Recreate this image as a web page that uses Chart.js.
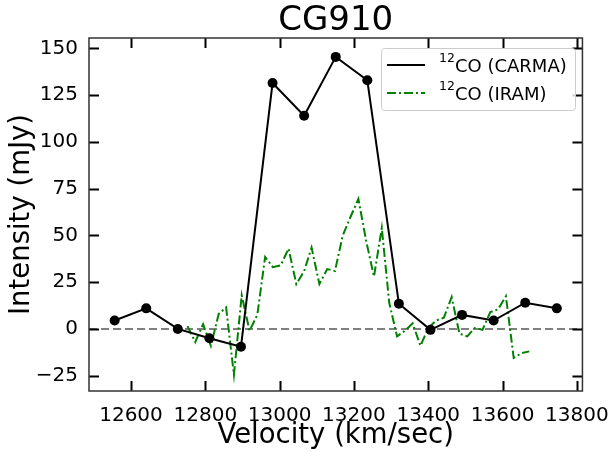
<!DOCTYPE html>
<html>
<head>
<meta charset="utf-8">
<script src="https://cdn.jsdelivr.net/npm/chart.js@4.4.1/dist/chart.umd.min.js"></script>
<style>
  html, body { margin: 0; padding: 0; background: #fff; }
  #wrap { width: 614px; height: 452px; }
</style>
</head>
<body>
<div id="wrap"><canvas id="specChart" width="614" height="452"></canvas></div>
<script>
// CARMA spectrum (black, with markers)
const carmaVel = [12556, 12641, 12726, 12811, 12896, 12981, 13066, 13151, 13236, 13321, 13406, 13491, 13576, 13661, 13746];
const carmaFlux = [4.5, 11, 0, -5, -9.5, 131.5, 114, 145.5, 133, 13.5, -0.5, 7.5, 4.5, 14, 11];

// IRAM spectrum (green dash-dot)
const iramVel = [12752, 12773, 12794, 12815, 12836, 12856, 12877, 12898, 12919, 12940,
                 12961, 12982, 13003, 13024, 13045, 13066, 13086, 13107, 13128, 13149,
                 13170, 13191, 13212, 13233, 13254, 13275, 13295, 13316, 13337, 13358,
                 13379, 13400, 13421, 13442, 13463, 13484, 13505, 13525, 13546, 13567,
                 13588, 13609, 13630, 13651, 13672];
const iramFlux = [1.5, -7, 2.5, -9, 8, 11.5, -24.5, 18, -1, 7.5,
                  38.5, 33, 34, 43, 24, 31, 43.5, 24, 32, 31,
                  50, 60, 69.5, 47, 28, 54, 14, -4, -1, 3,
                  -9, 0.5, 4.5, 6, 17, -2.5, -4, 0.5, -0.5, 9,
                  10.5, 17.5, -15.5, -13, -12];

const xTicks = [12600, 12800, 13000, 13200, 13400, 13600, 13800];
const yTicks = [-25, 0, 25, 50, 75, 100, 125, 150];

const FONT = "'DejaVu Sans', sans-serif";

function toPoints(xs, ys) {
  return xs.map((x, i) => ({ x: x, y: ys[i] }));
}

// frame, inward ticks, zero line, titles and legend
const decorPlugin = {
  id: 'decor',
  beforeDatasetsDraw(chart) {
    const { ctx, chartArea: a, scales: { y } } = chart;
    const y0 = y.getPixelForValue(0);
    ctx.save();
    ctx.strokeStyle = '#808080';
    ctx.lineWidth = 2;
    ctx.setLineDash([8, 4]);
    ctx.beginPath();
    ctx.moveTo(a.left, y0);
    ctx.lineTo(a.right, y0);
    ctx.stroke();
    ctx.restore();
  },
  afterDraw(chart) {
    const { ctx, chartArea: a, scales: { x, y } } = chart;
    ctx.save();

    // ticks pointing in, on all four sides
    ctx.strokeStyle = '#000';
    ctx.lineWidth = 2;
    const tl = 10;
    ctx.beginPath();
    xTicks.forEach(v => {
      const px = Math.round(x.getPixelForValue(v)) + 0.5;
      ctx.moveTo(px, a.bottom); ctx.lineTo(px, a.bottom - tl);
      ctx.moveTo(px, a.top); ctx.lineTo(px, a.top + tl);
    });
    yTicks.forEach(v => {
      const py = Math.round(y.getPixelForValue(v)) + 0.5;
      ctx.moveTo(a.left, py); ctx.lineTo(a.left + tl, py);
      ctx.moveTo(a.right, py); ctx.lineTo(a.right - tl, py);
    });
    ctx.stroke();

    // frame
    ctx.strokeStyle = '#333';
    ctx.lineWidth = 1.5;
    ctx.strokeRect(a.left, a.top, a.right - a.left, a.bottom - a.top);

    // title and axis labels
    ctx.fillStyle = '#000';
    ctx.textAlign = 'center';
    ctx.textBaseline = 'alphabetic';
    ctx.font = '34px ' + FONT;
    ctx.fillText('CG910', (a.left + a.right) / 2, 30);
    ctx.font = '27.5px ' + FONT;
    ctx.fillText('Velocity (km/sec)', (a.left + a.right) / 2, 443);
    ctx.save();
    ctx.translate(29, (a.top + a.bottom) / 2);
    ctx.rotate(-Math.PI / 2);
    ctx.fillText('Intensity (mJy)', 0, 0);
    ctx.restore();

    // legend
    const lx = 381, ly = 48, lw = 194, lh = 62;
    ctx.fillStyle = 'rgba(255,255,255,0.8)';
    ctx.strokeStyle = '#cccccc';
    ctx.lineWidth = 1;
    ctx.beginPath();
    ctx.roundRect(lx + 0.5, ly + 0.5, lw, lh, 3);
    ctx.fill();
    ctx.stroke();

    const rows = [
      { label: 'CO (CARMA)', color: '#000000', dash: [], yRow: 65 },
      { label: 'CO (IRAM)', color: '#008000', dash: [9, 3, 2, 3], yRow: 93 }
    ];
    rows.forEach(r => {
      ctx.strokeStyle = r.color;
      ctx.lineWidth = 2;
      ctx.setLineDash(r.dash);
      ctx.beginPath();
      ctx.moveTo(387, r.yRow);
      ctx.lineTo(425, r.yRow);
      ctx.stroke();
      ctx.setLineDash([]);
      ctx.fillStyle = '#000';
      ctx.textAlign = 'left';
      ctx.font = '12.5px ' + FONT;
      ctx.fillText('12', 439, r.yRow - 3);
      ctx.font = '18px ' + FONT;
      ctx.fillText(r.label, 455, r.yRow + 7);
    });

    ctx.restore();
  }
};

const ctx = document.getElementById('specChart').getContext('2d');
new Chart(ctx, {
  type: 'line',
  data: {
    datasets: [{
      label: '12CO (CARMA)',
      data: toPoints(carmaVel, carmaFlux),
      borderColor: '#000',
      backgroundColor: '#000',
      borderWidth: 2,
      pointRadius: 5,
      pointBorderWidth: 0,
      tension: 0
    }, {
      label: '12CO (IRAM)',
      data: toPoints(iramVel, iramFlux),
      borderColor: '#008000',
      borderWidth: 2,
      borderDash: [9, 3, 2, 3],
      pointRadius: 0,
      tension: 0
    }]
  },
  options: {
    responsive: false,
    animation: false,
    devicePixelRatio: 1,
    layout: { padding: { top: 38, right: 28, left: 0, bottom: 0 } },
    plugins: {
      legend: { display: false },
      tooltip: { enabled: false }
    },
    scales: {
      x: {
        type: 'linear',
        min: 12487,
        max: 13815,
        grid: { display: false },
        border: { display: false },
        afterFit: s => { s.height = 61; },
        afterBuildTicks: s => { s.ticks = xTicks.map(v => ({ value: v })); },
        ticks: {
          color: '#000',
          padding: 5,
          maxRotation: 0,
          autoSkip: false,
          font: { family: FONT, size: 20 },
          callback: v => String(v)
        }
      },
      y: {
        min: -33.2,
        max: 155.6,
        grid: { display: false },
        border: { display: false },
        afterFit: s => { s.width = 89; },
        afterBuildTicks: s => { s.ticks = yTicks.map(v => ({ value: v })); },
        ticks: {
          color: '#000',
          padding: 3,
          autoSkip: false,
          font: { family: FONT, size: 20 },
          callback: v => String(v).replace('-', '\u2212')
        }
      }
    }
  },
  plugins: [decorPlugin]
});
</script>
</body>
</html>
